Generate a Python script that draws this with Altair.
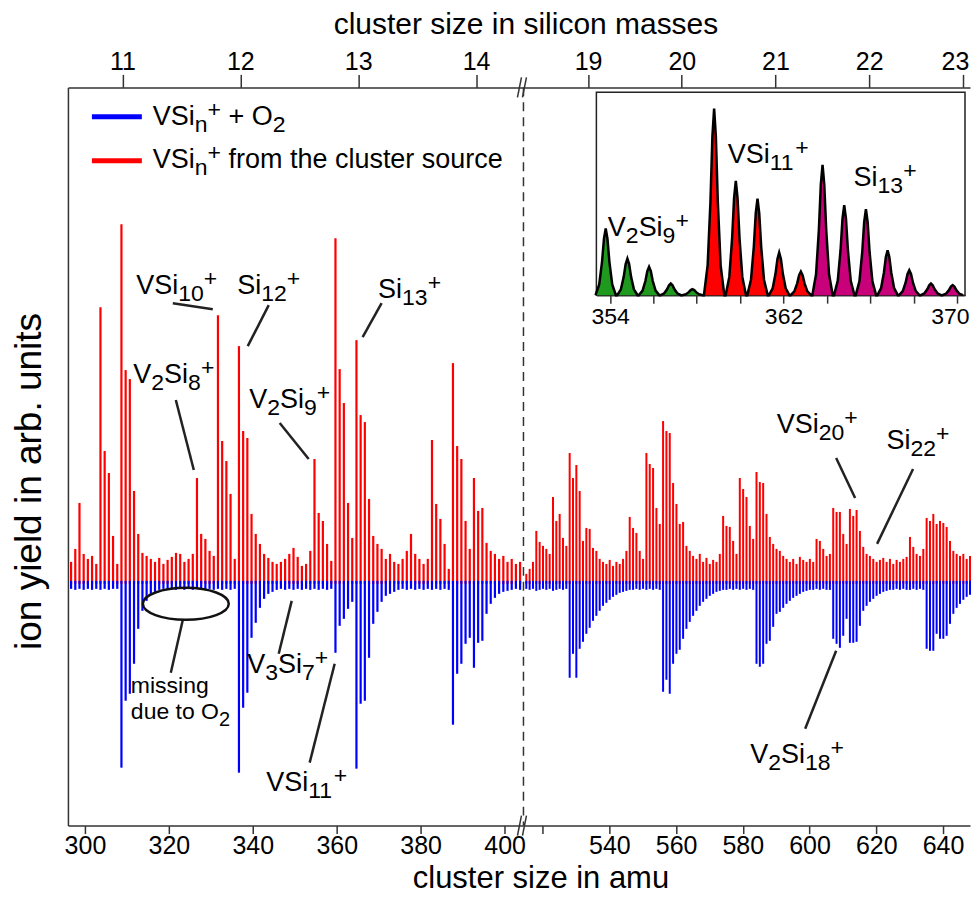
import altair as alt
import pandas as pd

FONT = "Liberation Sans"
SI_MASS = 28.0855

# ---------------- data ----------------
# left panel: mass channels start at 296.7 amu, 1 amu apart
LEFT_START = 296.7
left_red = [
    22, 35, 81, 30, 25, 28, 20, 277, 133, 111,
    48, 20, 360, 214, 205, 93, 50, 31, 28, 25,
    22, 26, 20, 24, 27, 31, 30, 22, 25, 30,
    106, 50, 45, 33, 28, 269, 143, 123, 90, 25,
    238, 153, 146, 70, 50, 40, 30, 26, 22, 20,
    22, 25, 30, 36, 27, 18, 20, 33, 125, 71,
    63, 40, 23, 346, 215, 181, 81, 46, 244, 169,
    162, 85, 48, 40, 35, 25, 30, 22, 20, 25,
    33, 50, 30, 25, 20, 25, 144, 80, 65, 40,
    15, 221, 138, 125, 63, 35, 106, 73, 76, 41,
    33, 30, 25, 28, 22, 25, 20, 22,
]
left_blue = [
    5, 6, 5, 6, 5, 6, 5, 6, 5, 6, 5, 5,
    184, 117, 110, 80, 45, 27, 17, 10, 8, 6,
    5, 6, 5, 6, 5, 6, 5, 6, 5, 5, 6, 5, 6, 5, 6, 5, 6, 5,
    189, 124, 109, 54, 39, 24, 15, 10, 8, 6,
    5, 6, 5, 6, 5, 6, 5, 6, 5, 6, 5, 6, 5,
    69, 42, 35, 25, 18,
    185, 120, 117, 74, 40, 28, 18, 12, 10, 8,
    6, 5, 6, 5, 6, 5, 6, 5, 6, 5, 6, 5, 6,
    141, 90, 80, 60, 54, 84, 59, 57, 30, 20, 14, 10, 8, 7, 6, 5, 6,
]

# right panel: mass channels start at 515.1 amu, 1 amu apart
RIGHT_START = 515.1
right_red = [
    10, 15, 22, 53, 42, 38, 35, 30, 87, 63,
    70, 46, 38, 131, 106, 119, 93, 43, 56, 55,
    36, 33, 25, 22, 20, 24, 18, 22, 20, 25,
    33, 67, 56, 51, 33, 25, 131, 120, 116, 76,
    60, 163, 153, 151, 101, 80, 60, 62, 38, 33,
    28, 25, 30, 22, 26, 20, 24, 22, 30, 68,
    58, 57, 43, 30, 106, 95, 87, 58, 45, 112,
    102, 101, 70, 47, 40, 35, 33, 28, 25, 22,
    25, 20, 27, 24, 22, 25, 22, 45, 43, 35,
    28, 30, 76, 72, 72, 50, 40, 75, 68, 74,
    53, 37, 30, 28, 25, 22, 24, 26, 22, 25,
    20, 24, 22, 25, 27, 47, 37, 30, 28, 35,
    66, 63, 70, 60, 63, 61, 57, 43, 33, 30,
    28, 30, 25, 28,
]
right_blue = [
    5, 6, 5, 7, 6, 5, 6, 5, 7, 6, 5, 6, 5,
    94, 70, 94, 65, 58, 50, 44, 37, 32, 27, 22, 19, 16, 13, 11, 9, 8, 7, 6, 6, 5, 6, 5, 6, 5, 6, 5, 6,
    108, 96, 110, 80, 70, 66, 55, 45, 38, 32, 27, 22, 18, 15, 12, 10, 8, 7, 6, 6, 5, 6, 5, 6, 5, 6, 5, 6,
    80, 83, 80, 60, 57, 43, 30, 28, 24, 20, 17, 14, 12, 10, 8, 7, 6, 6, 5, 6, 5, 6, 6,
    55, 60, 64, 52, 35, 59, 59, 58, 42, 27, 22, 18, 15, 12, 10, 8, 7, 6, 6, 5, 6, 5, 6, 6, 5, 6, 5, 6,
    65, 67, 67, 50, 55, 55, 52, 40, 30, 24, 20, 16, 13, 11,
]

# inset (zoom 353.4 - 370.4 amu)
inset_mass = [353.8, 354.8, 355.8, 356.8, 357.8, 358.8, 359.8, 360.8, 361.8,
              362.8, 363.8, 364.8, 365.8, 366.8, 367.8, 368.8, 369.8]
inset_height = [200, 110, 85, 35, 18, 560, 343, 290, 128, 71,
                391, 270, 258, 135, 75, 35, 30]
inset_species = ["V2Si9"] * 5 + ["VSi11"] * 5 + ["Si13"] * 7
species_names = ["V2Si9", "VSi11", "Si13"]
species_colors = ["#1f9a1f", "#ff0000", "#c8007a"]

bottom_left_ticks = [300, 320, 340, 360, 380, 400]
bottom_right_ticks = [520, 540, 560, 580, 600, 620, 640]
top_left_ticks = [11, 12, 13, 14]
top_right_ticks = [19, 20, 21, 22, 23]
inset_ticks = [354, 356, 358, 360, 362, 364, 366, 368, 370]

# ---------------- layout constants ----------------
H = 739
WL, WR = 456, 447
LD = [295.95, 404.5]
RD = [514.25, 648.1]
YD = [-242, 497]
AX = "#333333"

left_df = pd.DataFrame({
    "mass": [LEFT_START + i for i in range(len(left_red))],
    "red": left_red,
    "blue": [-b for b in left_blue],
})
right_df = pd.DataFrame({
    "mass": [RIGHT_START + i for i in range(len(right_red))],
    "red": right_red,
    "blue": [-b for b in right_blue],
})

# peak outline used to draw each inset peak (rendering shape, relative to its height)
SHAPE = [(-0.47, 0.0), (-0.30, 0.16), (-0.17, 0.5), (-0.08, 0.85), (0.0, 1.0),
         (0.08, 0.85), (0.17, 0.5), (0.30, 0.16), (0.47, 0.0)]
rows = []
for pid, (m, h, sp) in enumerate(zip(inset_mass, inset_height, inset_species)):
    for dx, f in SHAPE:
        rows.append({"x": m + dx, "y": h * f, "sp": sp, "pid": pid})
inset_df = pd.DataFrame(rows)

ONE = pd.DataFrame({"k": [0]})

CW = {'V': .667, 'S': .667, 'i': .222, 'O': .778, 'n': .556, '+': .584, ' ': .278,
      'f': .278, 'r': .333, 'o': .556, 'm': .833, 't': .278, 'h': .556, 'e': .556,
      'c': .5, 'l': .222, 'u': .556, 's': .5, 'g': .556, 'd': .556}
for d in "0123456789":
    CW[d] = .556


def txt(x, y, s, size, align="left"):
    return alt.Chart(ONE).mark_text(text=s, fontSize=size, align=align, baseline="alphabetic",
                                    font=FONT, color="black").encode(x=alt.value(x), y=alt.value(y))


def rich(parts, x, y, anchor="center", size=27, small=23):
    ws = []
    for t, k in parts:
        s = size if k == "n" else small
        ws.append(sum(CW[c] for c in t) * s)
    x0 = x - sum(ws) / 2 if anchor == "center" else x
    out = []
    for (t, k), w in zip(parts, ws):
        s = size if k == "n" else small
        dy = 0 if k == "n" else (7 if k == "b" else -8)
        lead = len(t) - len(t.lstrip(" "))
        out.append(txt(x0 + lead * CW[' '] * s, y + dy, t.strip(" "), s))
        x0 += w
    return out


def seg(x1, y1, x2, y2, w=2.5, color="#222222", dash=None):
    kw = {"color": color, "strokeWidth": w}
    if dash:
        kw["strokeDash"] = dash
    return alt.Chart(ONE).mark_rule(**kw).encode(
        x=alt.value(x1), y=alt.value(y1), x2=alt.value(x2), y2=alt.value(y2))


def spectrum(df, dom, bottom_axis, yaxis, sw):
    xs = alt.X("mass:Q", scale=alt.Scale(domain=dom, nice=False, zero=False), axis=bottom_axis)
    ysc = alt.Scale(domain=YD, nice=False, zero=False)
    red = alt.Chart(df).mark_rule(color="#ff0000", strokeWidth=sw).encode(
        x=xs, y=alt.Y("red:Q", scale=ysc, axis=yaxis), y2=alt.datum(0))
    blue = alt.Chart(df).mark_rule(color="#0000ff", strokeWidth=sw).encode(
        x=xs, y=alt.Y("blue:Q", scale=ysc, axis=yaxis), y2=alt.datum(3))
    return alt.layer(red, blue)


def top_axis(ticks, dom, title):
    kw = dict(orient="top", values=ticks, format="d", tickSize=13, labelFontSize=25,
              labelPadding=0, grid=False, title=title)
    if title:
        kw.update(titleX=458, titleY=-63, titleBaseline="middle", titleAlign="center",
                  titleFontSize=30, titleAngle=0)
    else:
        kw.update(labelFlush=10, labelFlushOffset=6)
    return alt.Chart(pd.DataFrame({"si": ticks})).mark_point(opacity=0).encode(
        x=alt.X("si:Q", scale=alt.Scale(domain=[dom[0] / SI_MASS, dom[1] / SI_MASS], nice=False, zero=False),
                axis=alt.Axis(**kw)),
        y=alt.value(0))


# ---------------- left panel ----------------
left_bottom_axis = alt.Axis(values=bottom_left_ticks, tickSize=8, labelFontSize=25, labelPadding=0,
                            title="cluster size in amu", titleFontSize=31, titleX=473, titleY=53,
                            titleBaseline="middle", titleAlign="center", grid=False)
left_y_axis = alt.Axis(title="ion yield in arb. units", labels=False, ticks=False, grid=False,
                       titleFontSize=37, titleX=-38, titleY=394, titleBaseline="middle",
                       titleAlign="center", titleAngle=-90)

left_layers = [
    spectrum(left_df, LD, left_bottom_axis, left_y_axis, 2.2),
    top_axis(top_left_ticks, LD, "cluster size in silicon masses"),
    # legend
    seg(24, 29.5, 74, 29.5, w=5, color="#0000ff"),
    seg(24, 73.5, 74, 73.5, w=5, color="#ff0000"),
    # dashed break line and break marks
    seg(WL, 0, WL, H, w=1.5, color=AX, dash=[9, 6]),
    seg(450, 10, 454, -10, w=1.5, color=AX),
    seg(455, 10, 459, -10, w=1.5, color=AX),
    seg(450, H + 10, 454, H - 10, w=1.5, color=AX),
    seg(455, H + 10, 459, H - 10, w=1.5, color=AX),
    # leader lines
    seg(105, 216, 145, 222),
    seg(201, 218, 180, 259),
    seg(108, 313, 126, 383),
    seg(212, 336, 241, 372),
    seg(314, 216, 295, 250),
    seg(224, 514, 211, 567),
    seg(267, 577, 242, 676),
    seg(115, 533, 103, 586),
    alt.Chart(ONE).mark_point(
        shape="M -1 0 A 1 0.372 0 1 1 1 0 A 1 0.372 0 1 1 -1 0 Z",
        size=7396, filled=False, strokeWidth=2.5, color="#111111", opacity=1,
    ).encode(x=alt.value(118), y=alt.value(517)),
    txt(63, 606, "missing", 23),
]
left_layers += rich([("VSi", "n"), ("n", "b"), ("+", "p"), (" + O", "n"), ("2", "b")], 85, 38, anchor="left")
left_layers += rich([("VSi", "n"), ("n", "b"), ("+", "p"), (" from the cluster source", "n")], 85, 81, anchor="left")
left_layers += rich([("VSi", "n"), ("10", "b"), ("+", "p")], 109, 207)
left_layers += rich([("Si", "n"), ("12", "b"), ("+", "p")], 201, 207)
left_layers += rich([("V", "n"), ("2", "b"), ("Si", "n"), ("8", "b"), ("+", "p")], 106, 296)
left_layers += rich([("V", "n"), ("2", "b"), ("Si", "n"), ("9", "b"), ("+", "p")], 222, 321)
left_layers += rich([("Si", "n"), ("13", "b"), ("+", "p")], 342, 211)
left_layers += rich([("V", "n"), ("3", "b"), ("Si", "n"), ("7", "b"), ("+", "p")], 220, 586)
left_layers += rich([("VSi", "n"), ("11", "b"), ("+", "p")], 239, 704)
left_layers += rich([("due to O", "n"), ("2", "b")], 63, 632, anchor="left", size=23, small=20)

left = alt.layer(*left_layers).resolve_scale(x="independent").properties(width=WL, height=H)

# ---------------- right panel ----------------
right_bottom_axis = alt.Axis(values=bottom_right_ticks, tickSize=8, labelFontSize=25, labelPadding=0,
                             title=None, grid=False,
                             labelExpr="datum.value == 520 ? '' : datum.label")

inset_x = alt.X("x:Q", scale=alt.Scale(domain=[353.37, 370.37], range=[73, 442], nice=False, zero=False),
                axis=alt.Axis(orient="bottom", offset=-531, values=inset_ticks, tickSize=8,
                              labelFontSize=23, labelPadding=2, title=None, grid=False,
                              labelFlush=10, labelFlushOffset=12,
                              labelExpr="datum.value % 8 == 2 ? datum.label : ''"))
inset_y = alt.Y("y:Q", scale=alt.Scale(domain=[0, 609], range=[208, 5], nice=False, zero=False),
                axis=None, stack=None)

inset_group = alt.layer(
    alt.Chart(ONE).mark_rect(fill="white", stroke="#222222", strokeWidth=1.5).encode(
        x=alt.value(73), x2=alt.value(442), y=alt.value(5), y2=alt.value(208)),
    alt.Chart(inset_df).mark_area(opacity=1).encode(
        x=inset_x, y=inset_y,
        color=alt.Color("sp:N", scale=alt.Scale(domain=species_names, range=species_colors), legend=None),
        detail="pid:N"),
    alt.Chart(inset_df).mark_line(color="black", strokeWidth=2.5).encode(
        x=inset_x, y=inset_y, order="x:Q"),
)

right_layers = [
    spectrum(right_df, RD, right_bottom_axis, None, 2.0),
    top_axis(top_right_ticks, RD, None),
    inset_group,
    seg(313, 371, 332, 411),
    seg(390, 382, 354, 457),
    seg(313, 564, 282, 642),
]
right_layers += rich([("VSi", "n"), ("20", "b"), ("+", "p")], 294, 346)
right_layers += rich([("Si", "n"), ("22", "b"), ("+", "p")], 395, 362)
right_layers += rich([("V", "n"), ("2", "b"), ("Si", "n"), ("18", "b"), ("+", "p")], 274, 676)
right_layers += rich([("V", "n"), ("2", "b"), ("Si", "n"), ("9", "b"), ("+", "p")], 125, 149)
right_layers += rich([("VSi", "n"), ("11", "b"), ("+", "p")], 245, 76)
right_layers += rich([("Si", "n"), ("13", "b"), ("+", "p")], 362, 99)

right = alt.layer(*right_layers).resolve_scale(x="independent", y="independent").properties(width=WR, height=H)

chart = alt.hconcat(left, right, spacing=0, bounds="flush").properties(
    padding={"left": 3, "top": 1, "right": 0, "bottom": 0}
).configure(font=FONT).configure_view(stroke=None).configure_axis(
    domainColor=AX, tickColor=AX, domainWidth=1.5, tickWidth=1.5,
    labelColor="black", titleColor="black", labelFont=FONT, titleFont=FONT,
    titleFontWeight="normal", grid=False,
)

chart.save("out.html", embed_options={"renderer": "svg", "actions": False})
